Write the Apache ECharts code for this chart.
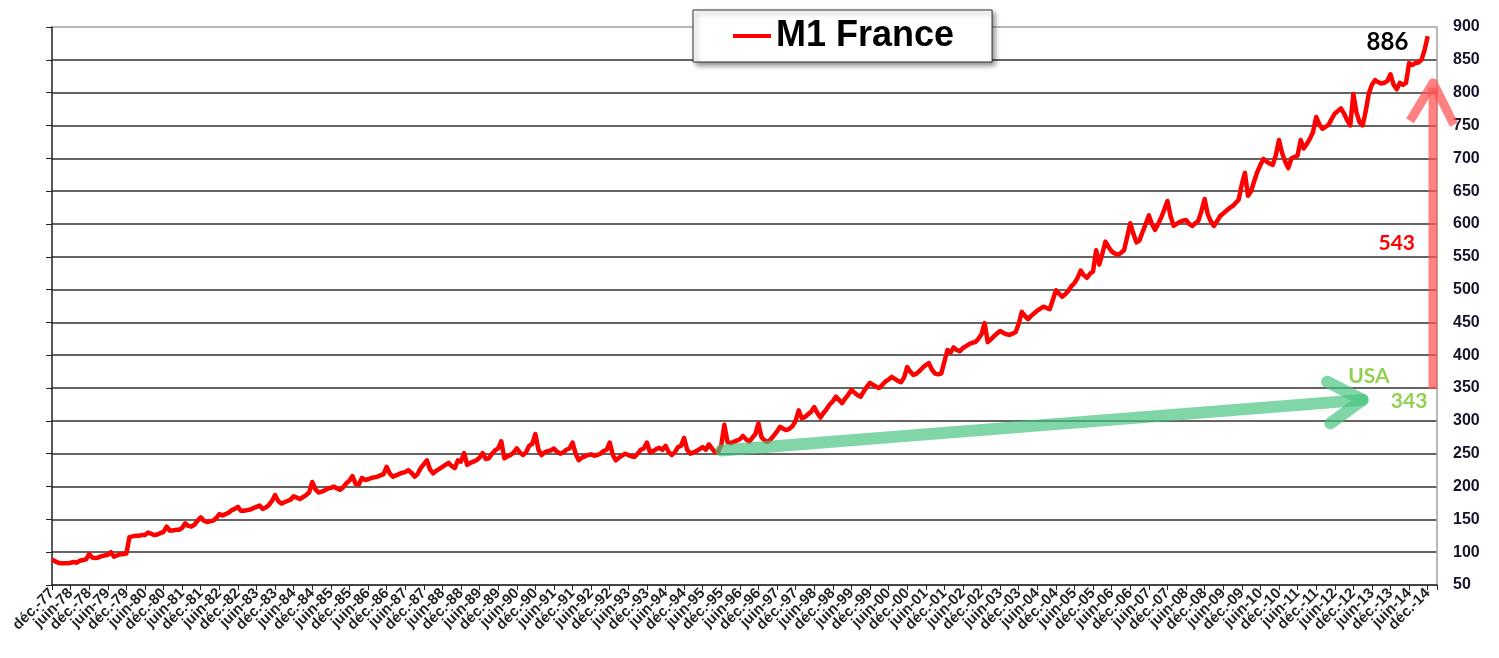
<!DOCTYPE html>
<html>
<head>
<meta charset="utf-8">
<title>M1 France</title>
<script src="https://cdn.jsdelivr.net/npm/echarts@6/dist/echarts.min.js"></script>
<style>
  html, body { margin: 0; padding: 0; background: #fff; }
  #chart { width: 1499px; height: 658px; }
</style>
</head>
<body>
<div id="chart"></div>
<script>
// monthly M1 France (Md€): déc.-77 .. déc.-14
const m1_1977_1985 = [
  89,
  86, 84, 83, 83, 83, 84, 85, 84, 87, 88, 89, 97,
  92, 91, 92, 94, 95, 96, 100, 93, 95, 97, 97, 98,
  123, 124, 125, 125, 126, 126, 130, 128, 126, 127, 129, 131,
  139, 133, 133, 134, 134, 137, 144, 140, 139, 142, 148, 153,
  148, 146, 147, 148, 152, 158, 156, 158, 160, 164, 166, 169,
  163, 163, 164, 165, 167, 169, 171, 166, 168, 172, 178, 187,
  178, 174, 176, 178, 180, 185, 183, 181, 184, 187, 191, 207,
  196, 191, 192, 194, 197, 198, 200, 197, 195, 199, 205, 209
]
const m1_1986_1995 = [
  216, 204, 203, 213, 210, 211, 213, 214, 215, 217, 219, 230,
  220, 215, 217, 219, 221, 222, 225, 221, 215, 219, 228, 234,
  240, 226, 220, 224, 227, 230, 233, 236, 231, 228, 240, 238,
  251, 233, 236, 238, 240, 244, 251, 242, 243, 250, 255, 258,
  269, 243, 246, 248, 252, 258, 252, 248, 252, 262, 265, 280,
  256, 248, 252, 254, 255, 258, 253, 250, 252, 256, 258, 267,
  250, 240, 244, 246, 248, 249, 247, 248, 250, 254, 256, 267,
  248, 240, 244, 247, 250, 248, 246, 245, 250, 256, 258, 267,
  252, 254, 257, 259, 256, 262, 253, 248, 252, 260, 262, 274,
  256, 250, 252, 254, 257, 260, 256, 264, 258, 252, 253, 263
]
const m1_1996_2005 = [
  294, 268, 266, 268, 270, 272, 277, 272, 268, 274, 280, 296,
  275, 270, 268, 272, 278, 284, 291, 288, 286, 288, 292, 300,
  316, 304, 306, 310, 314, 321, 312, 305, 312, 318, 325, 330,
  337, 332, 327, 334, 340, 347, 343, 339, 337, 345, 352, 358,
  355, 352, 350, 355, 360, 363, 367, 364, 361, 359, 366, 382,
  375, 370, 372, 376, 381, 385, 388, 378, 372, 371, 372, 390,
  408, 404, 412, 408, 406, 411, 414, 417, 419, 420, 425, 432,
  449, 420, 424, 429, 433, 437, 434, 432, 431, 433, 435, 448,
  466, 460, 455, 460, 464, 468, 471, 474, 472, 470, 484, 499,
  494, 489, 493, 498, 505, 510, 518, 529, 522, 518, 524, 528
]
const m1_2006_2014 = [
  560, 538, 555, 573, 565, 558, 555, 553, 556, 560, 580, 601,
  585, 572, 575, 588, 600, 613, 600, 591, 600, 610, 622, 635,
  612, 597, 600, 603, 605, 606, 600, 597, 601, 605, 620, 638,
  615, 604, 597, 604, 612, 616, 620, 624, 627, 632, 637, 660,
  678, 643, 650, 665, 679, 690, 699, 695, 692, 690, 705, 728,
  708, 695, 685, 700, 702, 704, 728, 715, 722, 730, 740, 763,
  752, 745, 748, 751, 760, 768, 772, 776, 768, 758, 750, 798,
  770, 755, 750, 772, 799, 812, 819, 816, 814, 815, 818, 828,
  812, 805, 815, 812, 815, 845, 842, 845, 846, 850, 865, 886
]

const monthNames = ['janv.', 'févr.', 'mars', 'avr.', 'mai', 'juin', 'juil.', 'août', 'sept.', 'oct.', 'nov.', 'déc.']
const firstYear = 1977
const lastYear = 2015
const lastMonth = 3 // axis runs on to mars-15

const yTicks = { min: 50, max: 900, step: 50 }

// annotations
const lastValue = 886
const franceGrowth = 543
const usaValue = 343

// build month categories déc.-77 ... mars-15
const categories = []
for (let y = firstYear; y <= lastYear; y++) {
  const start = y === firstYear ? 11 : 0
  const end = y === lastYear ? lastMonth - 1 : 11
  for (let m = start; m <= end; m++) {
    categories.push(monthNames[m] + '-' + String(y).slice(2))
  }
}
const m1 = [].concat(m1_1977_1985, m1_1986_1995, m1_1996_2005, m1_2006_2014)

const chart = echarts.init(document.getElementById('chart'))

const darkLine = '#303030'
const splitColors = ['#999']
for (let i = 1; i < (yTicks.max - yTicks.min) / yTicks.step; i++) splitColors.push(darkLine)
splitColors.push('#a0a0a0')

const option = {
  animation: false,
  backgroundColor: '#fff',
  legend: {
    left: 693,
    top: 10,
    padding: [7, 38, 7, 40],
    backgroundColor: '#fff',
    borderColor: '#333',
    borderWidth: 1,
    shadowBlur: 5,
    shadowOffsetX: 3,
    shadowOffsetY: 3,
    shadowColor: 'rgba(0,0,0,0.45)',
    itemWidth: 38,
    itemHeight: 4,
    data: [{ name: 'M1 France', icon: 'rect' }],
    textStyle: {
      fontFamily: 'Liberation Sans, Arial, sans-serif',
      fontWeight: 'bold',
      fontSize: 36,
      color: '#000',
      lineHeight: 38
    }
  },
  grid: { left: 52, right: 62, top: 27, bottom: 73 },
  xAxis: {
    type: 'category',
    data: categories,
    boundaryGap: false,
    axisLine: { lineStyle: { color: '#222', width: 1.5 } },
    axisTick: { interval: 5, length: 5, lineStyle: { color: '#222' } },
    axisLabel: {
      // every 6th month labelled (déc. / juin)
      interval: 0,
      formatter: (value, index) => (index % 6 === 0 ? value : ''),
      rotate: 45,
      margin: 6,
      showMinLabel: true,
      showMaxLabel: false,
      fontFamily: 'Liberation Sans, Arial, sans-serif',
      fontWeight: 'bold',
      fontSize: 15,
      color: '#1c2424'
    },
    splitLine: { show: false }
  },
  yAxis: [
    {
      type: 'value',
      position: 'right',
      min: yTicks.min,
      max: yTicks.max,
      interval: yTicks.step,
      axisLine: { show: true, lineStyle: { color: '#a0a0a0', width: 1.5 } },
      axisTick: { show: false },
      axisLabel: {
        margin: 16,
        fontFamily: 'Liberation Sans, Arial, sans-serif',
        fontWeight: 'bold',
        fontSize: 16,
        color: '#15152a'
      },
      splitLine: { show: true, lineStyle: { color: splitColors, width: 1.5 } }
    },
    {
      type: 'value',
      position: 'left',
      min: yTicks.min,
      max: yTicks.max,
      interval: yTicks.step,
      axisLine: { show: true, lineStyle: { color: '#222', width: 1.5 } },
      axisTick: { show: true, length: 6, lineStyle: { color: '#222' } },
      axisLabel: { show: false },
      splitLine: { show: false }
    }
  ],
  series: [
    {
      name: 'M1 France',
      type: 'line',
      data: m1,
      yAxisIndex: 0,
      symbol: 'none',
      color: '#ff0000',
      lineStyle: { color: '#ff0000', width: 4.5, join: 'round' },
      z: 3
    }
  ]
}
chart.setOption(option)

// annotations positioned through the axes
const px = (i, v) => chart.convertToPixel({ xAxisIndex: 0, yAxisIndex: 0 }, [i, v])
const lastIdx = categories.length - 1

// USA arrow (green)
const gStart = px(215.6, 255)
const gEnd = px(422.9, 332)
const dx = gEnd[0] - gStart[0], dy = gEnd[1] - gStart[1]
const ang = Math.atan2(dy, dx)
const barb = 40
const b1 = [gEnd[0] - barb * Math.cos(ang - 0.55), gEnd[1] - barb * Math.sin(ang - 0.55)]
const b2 = [gEnd[0] - barb * Math.cos(ang + 0.55), gEnd[1] - barb * Math.sin(ang + 0.55)]
const greenStyle = { stroke: 'rgba(70,195,125,0.68)', lineWidth: 12, lineCap: 'round', lineJoin: 'round', fill: null }

// France arrow (red)
const rx = px(lastIdx, 0)[0] - 4
const rBottom = px(0, 349)[1]
const rTip = px(0, 815)[1]
const redStyle = { stroke: 'rgba(255,80,80,0.72)', lineWidth: 9, lineCap: 'butt', lineJoin: 'round', fill: null }

const textFont = 'Lato, "Open Sans", sans-serif'
const label = (i, v, text, color, size) => {
  const p = px(i, v)
  return {
    type: 'text',
    x: p[0],
    y: p[1],
    z: 20,
    style: {
      text: text,
      fill: color,
      font: 'bold ' + size + 'px ' + textFont,
      align: 'center',
      verticalAlign: 'middle'
    }
  }
}

chart.setOption({
  graphic: [
    { type: 'polyline', z: 10, shape: { points: [gStart, gEnd] }, style: greenStyle },
    { type: 'polyline', z: 10, shape: { points: [b1, gEnd, b2] }, style: greenStyle },
    { type: 'polyline', z: 10, shape: { points: [[rx, rBottom], [rx, rTip + 5]] }, style: redStyle },
    { type: 'polyline', z: 10, shape: { points: [[rx - 23, rTip + 38], [rx, rTip], [rx + 21, rTip + 42]] }, style: redStyle },
    label(431.2, 877, String(lastValue), '#000', 24),
    label(433.5, 571, String(franceGrowth), '#ff0000', 21),
    label(424.8, 368, 'USA', '#92d050', 21),
    label(437.7, 330, String(usaValue), '#92d050', 21)
  ]
})
</script>
</body>
</html>
